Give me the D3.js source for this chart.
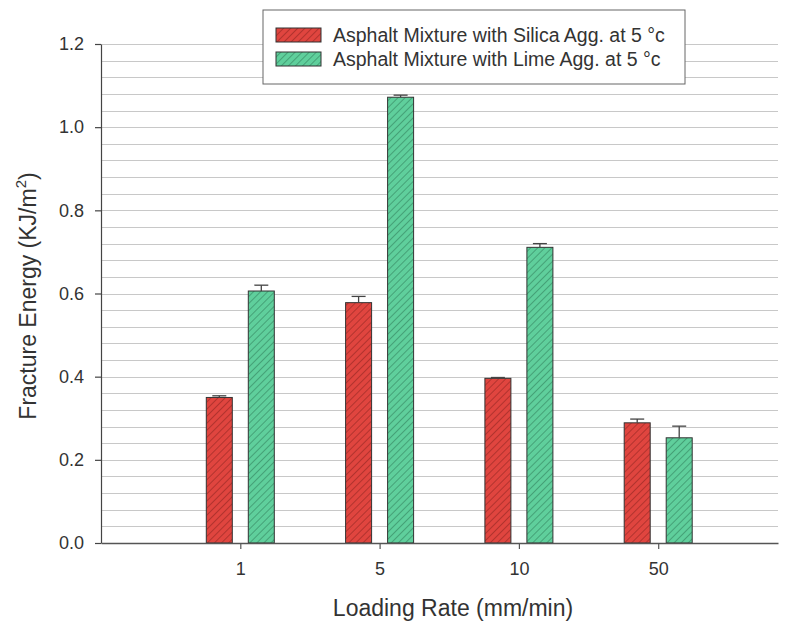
<!DOCTYPE html>
<html><head><meta charset="utf-8">
<script src="https://cdn.jsdelivr.net/npm/d3@7"></script>
<style>body{margin:0;background:#fff;} svg{display:block;font-family:"Liberation Sans",Arial,sans-serif;}</style>
</head><body>
<svg id="c" width="792" height="626"></svg>
<script>
const categories = ["1", "5", "10", "50"];
const seriesNames = ["Asphalt Mixture with Silica Agg. at 5 °c", "Asphalt Mixture with Lime Agg. at 5 °c"];
const silicaValues = [0.350, 0.578, 0.396, 0.289];
const silicaErrors = [0.004, 0.015, 0.002, 0.009];
const limeValues = [0.606, 1.072, 0.711, 0.253];
const limeErrors = [0.014, 0.005, 0.009, 0.028];
const yTicks = [0.0, 0.2, 0.4, 0.6, 0.8, 1.0, 1.2];

(function () {
const svg = d3.select("#c");
const pL = 101, pR = 778, pT = 44, pB = 543;
const y = d3.scaleLinear().domain([0, 1.2]).range([pB, pT]);
const x = d3.scaleLinear().domain([0, 4.86]).range([pL, pR]);
const colors = ["#e0453f", "#5fcf9c"];
const barW = 26, off = 21;

const defs = svg.append("defs");
colors.forEach((c, i) => {
  const p = defs.append("pattern").attr("id", "hatch" + i).attr("patternUnits", "userSpaceOnUse")
    .attr("width", 5).attr("height", 5).attr("patternTransform", "rotate(45)");
  p.append("rect").attr("width", 5).attr("height", 5).attr("fill", c);
  p.append("line").attr("x1", 0).attr("y1", 0).attr("x2", 0).attr("y2", 5)
    .attr("stroke", i === 0 ? "#8a2420" : "#2f7a58").attr("stroke-width", 1.1);
});

// minor gridlines
const grid = d3.range(0, 1.2001, 0.04);
svg.append("g").selectAll("line").data(grid.filter(v => v > 0.001)).join("line")
  .attr("x1", pL).attr("x2", pR).attr("y1", d => Math.round(y(d)) + 0.5).attr("y2", d => Math.round(y(d)) + 0.5)
  .attr("stroke", "#c8c8c8").attr("stroke-width", 1);

// bars
const series = [
  {vals: silicaValues, errs: silicaErrors, dx: -off},
  {vals: limeValues, errs: limeErrors, dx: off}
];
series.forEach((s, si) => {
  const g = svg.append("g");
  g.selectAll("rect").data(categories).join("rect")
    .attr("x", (d, i) => x(i + 1) + s.dx - barW / 2)
    .attr("y", (d, i) => y(s.vals[i]))
    .attr("width", barW)
    .attr("height", (d, i) => y(0) - y(s.vals[i]))
    .attr("fill", "url(#hatch" + si + ")")
    .attr("stroke", "#333").attr("stroke-width", 1);
  g.selectAll("line.v").data(categories).join("line").attr("class", "v")
    .attr("x1", (d, i) => x(i + 1) + s.dx).attr("x2", (d, i) => x(i + 1) + s.dx)
    .attr("y1", (d, i) => y(s.vals[i])).attr("y2", (d, i) => y(s.vals[i] + s.errs[i]))
    .attr("stroke", "#444").attr("stroke-width", 1.3);
  g.selectAll("line.c").data(categories).join("line").attr("class", "c")
    .attr("x1", (d, i) => x(i + 1) + s.dx - 7).attr("x2", (d, i) => x(i + 1) + s.dx + 7)
    .attr("y1", (d, i) => y(s.vals[i] + s.errs[i])).attr("y2", (d, i) => y(s.vals[i] + s.errs[i]))
    .attr("stroke", "#444").attr("stroke-width", 1.3);
});

// y axis
const yAxis = d3.axisLeft(y).tickValues(yTicks).tickFormat(d3.format(".1f")).tickSize(6).tickSizeOuter(0).tickPadding(11);
const ya = svg.append("g").attr("transform", `translate(${pL},0)`).call(yAxis);
ya.select(".domain").attr("stroke", "#444").attr("stroke-width", 1.2);
ya.selectAll(".tick line").attr("stroke", "#444").attr("stroke-width", 1.2);
ya.selectAll("text").attr("font-size", 18).attr("fill", "#333").attr("font-family", "Liberation Sans, Arial, sans-serif");

// x axis
const xAxis = d3.axisBottom(x).tickValues([1, 2, 3, 4]).tickFormat((d) => categories[d - 1]).tickSize(6).tickSizeOuter(0).tickPadding(13);
const xa = svg.append("g").attr("transform", `translate(0,${pB})`).call(xAxis);
xa.select(".domain").attr("stroke", "#555").attr("stroke-width", 1.5);
xa.selectAll(".tick line").attr("stroke", "#555").attr("stroke-width", 1.2);
xa.selectAll("text").attr("font-size", 18).attr("fill", "#333").attr("font-family", "Liberation Sans, Arial, sans-serif");

// axis titles
svg.append("text").attr("x", 453).attr("y", 616).attr("text-anchor", "middle")
  .attr("font-size", 23).attr("fill", "#333").text("Loading Rate (mm/min)");
const yt = svg.append("text").attr("transform", "translate(36,296) rotate(-90)").attr("text-anchor", "middle")
  .attr("font-size", 23).attr("fill", "#333");
yt.append("tspan").text("Fracture Energy (KJ/m");
yt.append("tspan").attr("font-size", 15).attr("dy", -10).text("2");
yt.append("tspan").attr("dy", 10).text(")");

// legend
const lg = svg.append("g");
lg.append("rect").attr("x", 263).attr("y", 10).attr("width", 422).attr("height", 74)
  .attr("fill", "#fff").attr("stroke", "#666").attr("stroke-width", 1);
seriesNames.forEach((n, i) => {
  const yy = 28 + i * 24;
  lg.append("rect").attr("x", 276).attr("y", yy).attr("width", 45).attr("height", 14)
    .attr("fill", "url(#hatch" + i + ")").attr("stroke", "#333");
  lg.append("text").attr("x", 333).attr("y", yy + 14).attr("font-size", 19.5).attr("fill", "#333").text(n);
});
})();
</script>
</body></html>
